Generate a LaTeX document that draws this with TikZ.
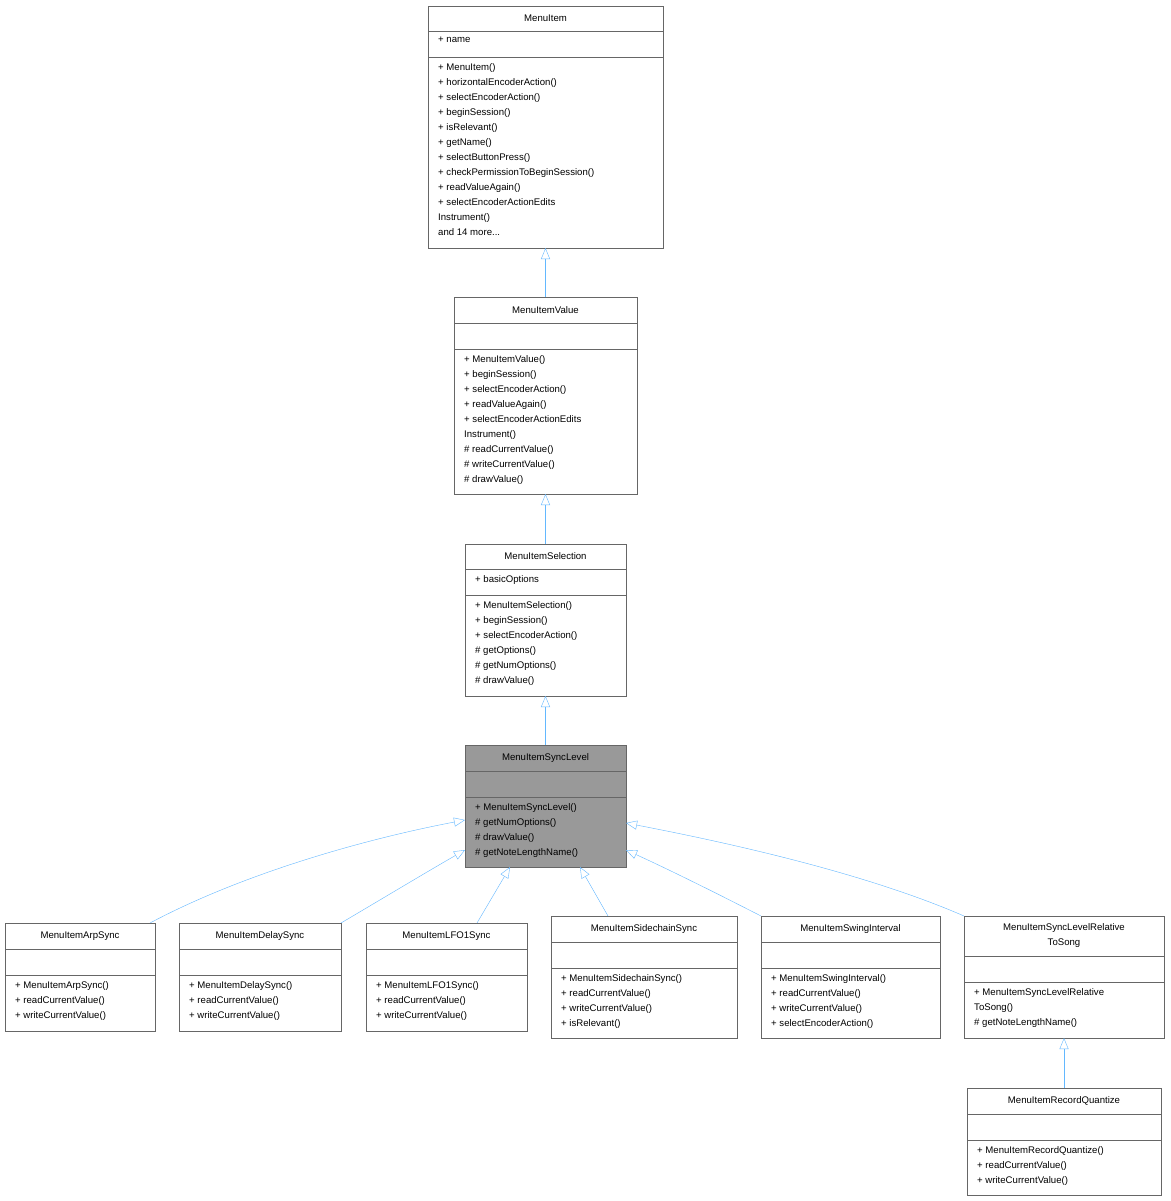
\documentclass[tikz,border=0pt]{standalone}
\usepackage{fontspec}
\setmainfont{Liberation Sans}
\usetikzlibrary{arrows.meta}
\definecolor{edge}{HTML}{63B8FF}
\definecolor{bord}{HTML}{666666}
\begin{document}
\begin{tikzpicture}[x=1pt,y=-1pt,
  txt/.style={inner sep=0pt,font=\fontsize{9.6}{15}\selectfont,align=left,anchor=north west},
  ttl/.style={inner sep=0pt,font=\fontsize{9.6}{15}\selectfont,align=center},
  inh/.style={draw=edge,-{Triangle[open,length=11pt,width=9pt,fill=white]}}]
\useasboundingbox[fill=white] (0,0) rectangle (1170,1201);
% box: name, l,t,r,b, d1,d2
\newcommand\ubox[8][white]{%
  \draw[bord,fill=#1] (#3,#4) rectangle (#5,#6);
  \draw[bord] (#3,#7) -- (#5,#7); \draw[bord] (#3,#8) -- (#5,#8);
  \coordinate (#2-t) at ({(#3+#5)/2},#4);
  \coordinate (#2-b) at ({(#3+#5)/2},#6);}
\ubox{mi}{428}{6}{663}{248}{31}{57}
\node[ttl] at (545.5,18.5) {MenuItem};
\node[txt] at (438,37) {+ name};
\node[txt] at (438,63) {+ MenuItem()\\+ horizontalEncoderAction()\\+ selectEncoderAction()\\+ beginSession()\\+ isRelevant()\\+ getName()\\+ selectButtonPress()\\+ checkPermissionToBeginSession()\\+ readValueAgain()\\+ selectEncoderActionEdits\\Instrument()\\and 14 more...};
\ubox{mv}{454}{297}{637}{494}{323}{349}
\node[ttl] at (545.5,310) {MenuItemValue};
\node[txt] at (464,355) {+ MenuItemValue()\\+ beginSession()\\+ selectEncoderAction()\\+ readValueAgain()\\+ selectEncoderActionEdits\\Instrument()\\\# readCurrentValue()\\\# writeCurrentValue()\\\# drawValue()};
\ubox{ms}{465}{544}{626}{696}{569}{595}
\node[ttl] at (545.5,556.5) {MenuItemSelection};
\node[txt] at (475,575) {+ basicOptions};
\node[txt] at (475,601) {+ MenuItemSelection()\\+ beginSession()\\+ selectEncoderAction()\\\# getOptions()\\\# getNumOptions()\\\# drawValue()};
\ubox[black!40]{sl}{465}{745}{626}{867}{771}{797}
\node[ttl] at (545.5,758) {MenuItemSyncLevel};
\node[txt] at (475,803) {+ MenuItemSyncLevel()\\\# getNumOptions()\\\# drawValue()\\\# getNoteLengthName()};
\coordinate (sl-l1) at (465,820); \coordinate (sl-l2) at (465,850);
\coordinate (sl-b1) at (510,867); \coordinate (sl-b2) at (580,867);
\coordinate (sl-r1) at (626,850); \coordinate (sl-r2) at (626,823);
% bottom row
\ubox{arp}{5}{923}{155}{1031}{949}{975}
\node[ttl] at (80,936) {MenuItemArpSync};
\node[txt] at (15,981) {+ MenuItemArpSync()\\+ readCurrentValue()\\+ writeCurrentValue()};
\ubox{del}{179}{923}{341}{1031}{949}{975}
\node[ttl] at (260,936) {MenuItemDelaySync};
\node[txt] at (189,981) {+ MenuItemDelaySync()\\+ readCurrentValue()\\+ writeCurrentValue()};
\ubox{lfo}{366}{923}{527}{1031}{949}{975}
\node[ttl] at (446.5,936) {MenuItemLFO1Sync};
\node[txt] at (376,981) {+ MenuItemLFO1Sync()\\+ readCurrentValue()\\+ writeCurrentValue()};
\ubox{sc}{551}{916}{737}{1038}{942}{968}
\node[ttl] at (644,929) {MenuItemSidechainSync};
\node[txt] at (561,974) {+ MenuItemSidechainSync()\\+ readCurrentValue()\\+ writeCurrentValue()\\+ isRelevant()};
\ubox{sw}{761}{916}{940}{1038}{942}{968}
\node[ttl] at (850.5,929) {MenuItemSwingInterval};
\node[txt] at (771,974) {+ MenuItemSwingInterval()\\+ readCurrentValue()\\+ writeCurrentValue()\\+ selectEncoderAction()};
\ubox{rel}{964}{916}{1164}{1038}{956}{982}
\node[ttl] at (1064,936) {MenuItemSyncLevelRelative\\ToSong};
\node[txt] at (974,988) {+ MenuItemSyncLevelRelative\\ToSong()\\\# getNoteLengthName()};
\ubox{rq}{967}{1088}{1161}{1195}{1114}{1140}
\node[ttl] at (1064,1101) {MenuItemRecordQuantize};
\node[txt] at (977,1146) {+ MenuItemRecordQuantize()\\+ readCurrentValue()\\+ writeCurrentValue()};
\coordinate (arp-c) at (150,923); \coordinate (del-c) at (341,923);
\coordinate (lfo-c) at (477,923); \coordinate (sc-c) at (608,916);
\coordinate (sw-c) at (761,916); \coordinate (rel-c) at (964,916);
% edges
\draw[inh] (mv-t) -- (mi-b);
\draw[inh] (ms-t) -- (mv-b);
\draw[inh] (sl-t) -- (ms-b);
\draw[inh] (arp-c) .. controls (240,875) and (360,840) .. (sl-l1);
\draw[inh] (del-c) .. controls (380,900) and (430,870) .. (sl-l2);
\draw[inh] (lfo-c) -- (sl-b1);
\draw[inh] (sc-c) -- (sl-b2);
\draw[inh] (sw-c) .. controls (720,895) and (670,870) .. (sl-r1);
\draw[inh] (rel-c) .. controls (870,875) and (740,845) .. (sl-r2);
\draw[inh] (rq-t) -- (rel-b);
\end{tikzpicture}
\end{document}
